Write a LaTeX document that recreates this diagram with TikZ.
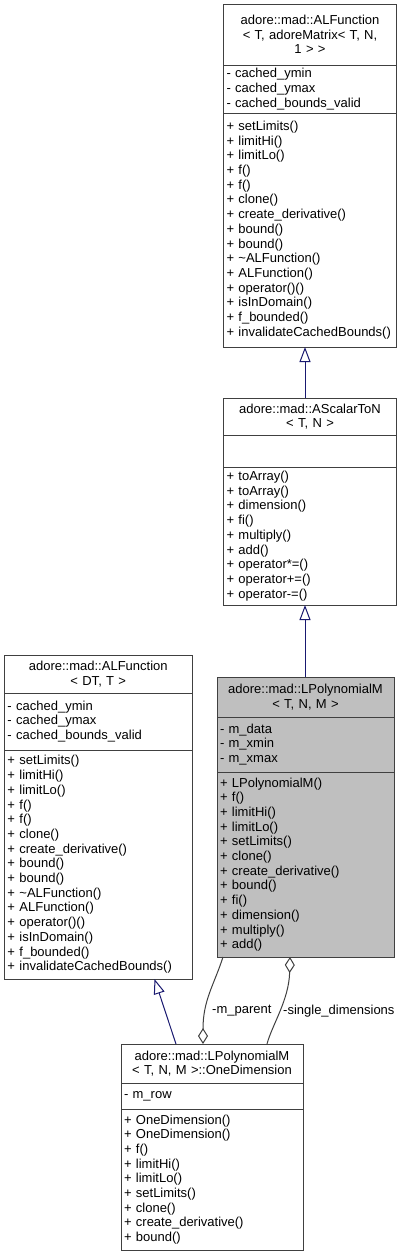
\documentclass[tikz,border=0pt]{standalone}
\usepackage{fontspec}
\setmainfont{Liberation Sans}
\usetikzlibrary{calc,arrows.meta,positioning}
\definecolor{boxgray}{HTML}{404040}
\definecolor{basefill}{HTML}{BFBFBF}
\definecolor{inhblue}{HTML}{191970}
\newcommand{\umlfont}{\fontsize{13}{14.7}\selectfont}

\begin{document}
\begin{tikzpicture}[x=1pt,y=-1pt,
        part/.style={draw=boxgray,fill=white,line width=1pt,outer sep=0pt,inner xsep=3pt,inner ysep=0pt,font=\umlfont,align=left},
        head/.style={part,align=center},
        lbl/.style={font=\umlfont,inner sep=0pt,anchor=west},
        inh/.style={draw=inhblue,line width=1pt,{Triangle[fill=white,length=15pt,width=11pt]}-},
        agg/.style={draw=boxgray,line width=1pt,{Diamond[fill=white,length=16pt,width=10pt]}-}]
        \useasboundingbox (0,0) rectangle (404,1259);
        \node[head,text width=167pt,minimum height=61pt,anchor=north west] (alfHead) at (223.5,4) {adore::mad::ALFunction\\< T, adoreMatrix< T, N,\\1 > >};
        \node[part,text width=167pt,minimum height=48pt,below=0pt of alfHead] (alfAttr) {- cached\_ymin\\- cached\_ymax\\- cached\_bounds\_valid};
        \node[part,text width=167pt,minimum height=234pt,below=0pt of alfAttr] (alfOps) {+ setLimits()\\+ limitHi()\\+ limitLo()\\+ f()\\+ f()\\+ clone()\\+ create\_derivative()\\+ bound()\\+ bound()\\+ \textasciitilde ALFunction()\\+ ALFunction()\\+ operator()()\\+ isInDomain()\\+ f\_bounded()\\+ invalidateCachedBounds()};
        \node[head,text width=167pt,minimum height=37pt,anchor=north west] (asnHead) at (223.5,398) {adore::mad::AScalarToN\\< T, N >};
        \node[part,text width=167pt,minimum height=32pt,below=0pt of asnHead] (asnAttr) {};
        \node[part,text width=167pt,minimum height=138pt,below=0pt of asnAttr] (asnOps) {+ toArray()\\+ toArray()\\+ dimension()\\+ fi()\\+ multiply()\\+ add()\\+ operator*=()\\+ operator+=()\\+ operator-=()};
        \node[head,fill=basefill,text width=171pt,minimum height=40pt,anchor=north west] (lpmHead) at (217,677) {adore::mad::LPolynomialM\\< T, N, M >};
        \node[part,fill=basefill,text width=171pt,minimum height=55pt,below=0pt of lpmHead] (lpmAttr) {- m\_data\\- m\_xmin\\- m\_xmax};
        \node[part,fill=basefill,text width=171pt,minimum height=185pt,below=0pt of lpmAttr] (lpmOps) {+ LPolynomialM()\\+ f()\\+ limitHi()\\+ limitLo()\\+ setLimits()\\+ clone()\\+ create\_derivative()\\+ bound()\\+ fi()\\+ dimension()\\+ multiply()\\+ add()};
        \node[head,text width=181.5pt,minimum height=38pt,anchor=north west] (alfdtHead) at (4.5,655) {adore::mad::ALFunction\\< DT, T >};
        \node[part,text width=181.5pt,minimum height=57pt,below=0pt of alfdtHead] (alfdtAttr) {- cached\_ymin\\- cached\_ymax\\- cached\_bounds\_valid};
        \node[part,text width=181.5pt,minimum height=229pt,below=0pt of alfdtAttr] (alfdtOps) {+ setLimits()\\+ limitHi()\\+ limitLo()\\+ f()\\+ f()\\+ clone()\\+ create\_derivative()\\+ bound()\\+ bound()\\+ \textasciitilde ALFunction()\\+ ALFunction()\\+ operator()()\\+ isInDomain()\\+ f\_bounded()\\+ invalidateCachedBounds()};
        \node[head,text width=176pt,minimum height=39pt,anchor=north west] (oneHead) at (121,1044) {adore::mad::LPolynomialM\\< T, N, M >::OneDimension};
        \node[part,text width=176pt,minimum height=26pt,below=0pt of oneHead] (oneAttr) {- m\_row};
        \node[part,text width=176pt,minimum height=141pt,below=0pt of oneAttr] (oneOps) {+ OneDimension()\\+ OneDimension()\\+ f()\\+ limitHi()\\+ limitLo()\\+ setLimits()\\+ clone()\\+ create\_derivative()\\+ bound()};
        \draw[inh] ([xshift=-5pt]alfOps.south) -- ([xshift=-5pt]asnHead.north);
        \draw[inh] ([xshift=-5pt]asnOps.south) -- ([xshift=-0.5pt]lpmHead.north);
        \draw[inh] ($(alfdtOps.south west)!0.8!(alfdtOps.south east)$) -- ([xshift=55pt]oneHead.north west);
        \draw[agg] ([xshift=82pt]oneHead.north west) .. controls +(0,-44) and +(-9,28) .. ([xshift=6pt]lpmOps.south west);
        \draw[agg] ([xshift=-15.5pt]lpmOps.south) .. controls +(-1,43) and +(5,-19) .. ([xshift=55pt]oneHead.north);
        \node[lbl] (parentLbl) at (212,1011) {-m\_parent};
        \node[lbl] (dimsLbl) at (283,1011) {-single\_dimensions};
      \end{tikzpicture}
\end{document}
